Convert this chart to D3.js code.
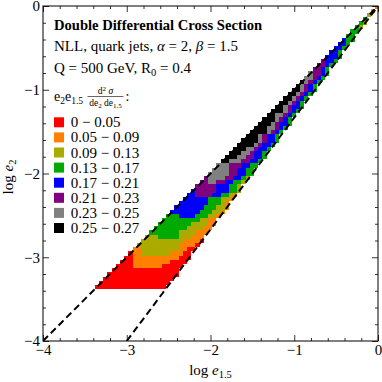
<!DOCTYPE html>
<html>
<head>
<meta charset="utf-8">
<script src="https://cdn.jsdelivr.net/npm/d3@7"></script>
<style>
  body { margin: 0; background: #fff; }
  text { font-family: "Liberation Serif", "Times New Roman", serif; fill: #000; }
</style>
</head>
<body>
<svg width="382" height="382"></svg>
<script>
// --- donnees ---
const majorTicks = [-4, -3, -2, -1, 0];
const levelLabels = ["0 \u2212 0.05", "0.05 \u2212 0.09", "0.09 \u2212 0.13", "0.13 \u2212 0.17",
  "0.17 \u2212 0.21", "0.21 \u2212 0.23", "0.23 \u2212 0.25", "0.25 \u2212 0.27"];
const levelColors = ["#ff0000", "#ff8000", "#aaaa00", "#00aa00", "#0000ff", "#800080", "#808080", "#000000"];

// lignes limites (log e1.5, log e2)
const upperBound = [[-4, -4], [0, 0]];
const lowerBound = [[-3, -4], [0, 0]];

// grille de cellules : pas de 0.05, la rangee j commence a la colonne j
const CELL = 0.05;
const GRID_X0 = -3.38;
const GRID_Y0 = -3.38;
// un chiffre = indice du niveau de couleur, de gauche a droite
const rows = [
  "00000000000000000",
  "00000000000000000",
  "00000000000000000",
  "00000000000000000",
  "0000000000000000",
  "0000111111100000",
  "0001111111110000",
  "0011111111111000",
  "011222222211100",
  "112222222221100",
  "222222222211110",
  "222222222211110",
  "22233333222111",
  "33333332222111",
  "33333333222211",
  "33333333222211",
  "3333333332211",
  "3334444333221",
  "4444444333221",
  "4444444333221",
  "444444433321",
  "444444333221",
  "445555443321",
  "455555444332",
  "55555444332",
  "55665544332",
  "56666554432",
  "66666554433",
  "6666554433",
  "6665554433",
  "7766655443",
  "7776655443",
  "777665443",
  "777665443",
  "777765443",
  "777765443",
  "77765443",
  "77776543",
  "77766543",
  "77765443",
  "7776543",
  "7766543",
  "7776543",
  "7765443",
  "776543",
  "776543",
  "776543",
  "776543",
  "76543",
  "76543",
  "66543",
  "65543",
  "5543",
  "5543",
  "5443",
  "4443",
  "443",
  "443",
  "443",
  "433",
  "33",
  "33",
  "32",
  "32",
  "3",
  "2",
  "1",
  "1"
];

// --- mise en page ---
const svg = d3.select("svg");
const plotLeft = 43, plotTop = 6, size = 335;

const x = d3.scaleLinear().domain([-4, 0]).range([plotLeft, plotLeft + size]);
const y = d3.scaleLinear().domain([-4, 0]).range([plotTop + size, plotTop]);

svg.append("clipPath").attr("id", "plot-clip")
  .append("rect").attr("x", plotLeft).attr("y", plotTop).attr("width", size).attr("height", size);

const plot = svg.append("g").attr("clip-path", "url(#plot-clip)");

// cellules
const cells = [];
rows.forEach((row, j) => {
  row.split("").forEach((c, k) => {
    if (c === ".") return;
    cells.push({ x0: GRID_X0 + (j + k) * CELL, y0: GRID_Y0 + j * CELL, level: +c });
  });
});

plot.selectAll("rect.cell")
  .data(cells)
  .join("rect")
  .attr("class", "cell")
  .attr("x", d => x(d.x0))
  .attr("y", d => y(d.y0 + CELL))
  .attr("width", d => x(d.x0 + CELL) - x(d.x0))
  .attr("height", d => y(d.y0) - y(d.y0 + CELL))
  .attr("fill", d => levelColors[d.level])
  .attr("shape-rendering", "crispEdges");

// lignes en pointilles
const line = d3.line().x(d => x(d[0])).y(d => y(d[1]));
[upperBound, lowerBound].forEach(b => {
  plot.append("path")
    .attr("d", line(b))
    .attr("fill", "none")
    .attr("stroke", "#000")
    .attr("stroke-width", 2)
    .attr("stroke-dasharray", "7,4");
});

// --- axes ---
const minorTicks = d3.range(-4, 0.001, 0.2).filter(v => Math.abs(v - Math.round(v)) > 1e-6);
const fmt = d => d === 0 ? "0" : "\u2212" + Math.abs(d);

function drawAxis(axisFn, scale, transform, labels) {
  const gMaj = svg.append("g").attr("transform", transform)
    .call(axisFn(scale).tickValues(majorTicks).tickSize(-6).tickPadding(3)
      .tickFormat(labels ? fmt : ""));
  const gMin = svg.append("g").attr("transform", transform)
    .call(axisFn(scale).tickValues(minorTicks).tickSize(-3).tickFormat(""));
  [gMaj, gMin].forEach(g => {
    g.select(".domain").remove();
    g.selectAll(".tick line").attr("stroke", "#000").attr("stroke-width", 0.8);
  });
  gMaj.selectAll("text").style("font-size", "15px").attr("fill", "#000");
  return gMaj;
}

drawAxis(d3.axisBottom, x, `translate(0,${plotTop + size})`, true);
drawAxis(d3.axisTop, x, `translate(0,${plotTop})`, false);
drawAxis(d3.axisLeft, y, `translate(${plotLeft},0)`, true);
drawAxis(d3.axisRight, y, `translate(${plotLeft + size},0)`, false);

// cadre
svg.append("rect")
  .attr("x", plotLeft).attr("y", plotTop).attr("width", size).attr("height", size)
  .attr("fill", "none").attr("stroke", "#000").attr("stroke-width", 1);

// titres des axes
const xt = svg.append("text").attr("x", plotLeft + size / 2).attr("y", 375)
  .attr("text-anchor", "middle").style("font-size", "15px");
xt.append("tspan").text("log ");
xt.append("tspan").style("font-style", "italic").text("e");
xt.append("tspan").attr("dy", 3).style("font-size", "10.5px").text("1.5");

const yt = svg.append("text").attr("transform", "translate(13,177) rotate(-90)")
  .attr("text-anchor", "middle").style("font-size", "15px");
yt.append("tspan").text("log ");
yt.append("tspan").style("font-style", "italic").text("e");
yt.append("tspan").attr("dy", 3).style("font-size", "10.5px").text("2");

// --- bloc de texte ---
const tx = 54;
svg.append("text").attr("x", tx).attr("y", 30)
  .style("font-size", "14.6px").style("font-weight", "bold")
  .text("Double Differential Cross Section");

const l2 = svg.append("text").attr("x", tx).attr("y", 51).style("font-size", "15px");
l2.append("tspan").text("NLL, quark jets, ");
l2.append("tspan").style("font-style", "italic").text("\u03b1");
l2.append("tspan").text(" = 2, ");
l2.append("tspan").style("font-style", "italic").text("\u03b2");
l2.append("tspan").text(" = 1.5");

const l3 = svg.append("text").attr("x", tx).attr("y", 72.5).style("font-size", "15px");
l3.append("tspan").text("Q = 500 GeV, R");
l3.append("tspan").attr("dy", 3).style("font-size", "10.5px").text("0");
l3.append("tspan").attr("dy", -3).text(" = 0.4");

// e2 e1.5 d2sigma / de2 de1.5 :
const l4 = svg.append("text").attr("x", tx).attr("y", 101).style("font-size", "14px");
l4.append("tspan").text("e");
l4.append("tspan").attr("dy", 3).style("font-size", "9.5px").text("2");
l4.append("tspan").attr("dy", -3).text("e");
l4.append("tspan").attr("dy", 3).style("font-size", "9.5px").text("1.5");

const fracX = 105.5;
const num = svg.append("text").attr("x", fracX).attr("y", 93.5)
  .attr("text-anchor", "middle").style("font-size", "9.5px");
num.append("tspan").text("d");
num.append("tspan").attr("dy", -3).style("font-size", "7px").text("2");
num.append("tspan").attr("dy", 3).style("font-style", "italic").text(" \u03c3");

svg.append("line").attr("x1", 87.5).attr("x2", 123.5).attr("y1", 96.5).attr("y2", 96.5)
  .attr("stroke", "#000").attr("stroke-width", 0.6);

const den = svg.append("text").attr("x", fracX).attr("y", 105.5)
  .attr("text-anchor", "middle").style("font-size", "9.5px");
den.append("tspan").text("de");
den.append("tspan").attr("dy", 2).style("font-size", "7px").text("2");
den.append("tspan").attr("dy", -2).text(" de");
den.append("tspan").attr("dy", 2).style("font-size", "7px").text("1.5");

svg.append("text").attr("x", 125.5).attr("y", 101).style("font-size", "14px").text(":");

// legende
const legend = svg.append("g");
const leg = legend.selectAll("g")
  .data(levelLabels)
  .join("g")
  .attr("transform", (d, i) => `translate(${tx},${122.3 + i * 15.1})`);
leg.append("rect")
  .attr("x", 0).attr("y", -5).attr("width", 10).attr("height", 10)
  .attr("fill", (d, i) => levelColors[i]);
leg.append("text")
  .attr("x", 16.7).attr("y", 5)
  .style("font-size", "15px")
  .text(d => d);
</script>
</body>
</html>
